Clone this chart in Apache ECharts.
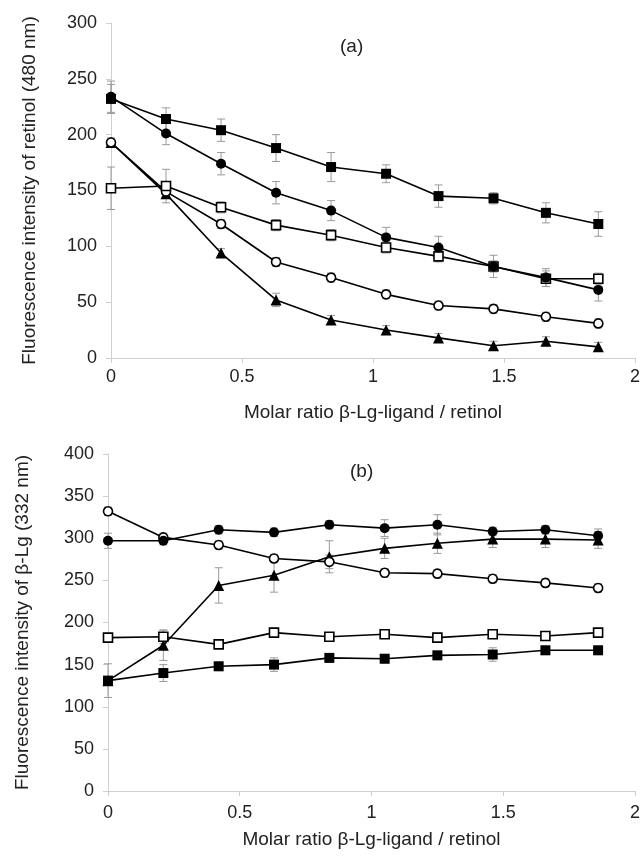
<!DOCTYPE html>
<html>
<head>
<meta charset="utf-8">
<script src="https://cdn.jsdelivr.net/npm/echarts@6/dist/echarts.min.js"></script>
<style>
    html, body { margin: 0; padding: 0; background: #fff; }
    #chart { width: 643px; height: 857px; }
</style>
</head>
<body>
<div id="chart"></div>
<script>
    // molar ratio β-Lg-ligand / retinol (same for both panels)
    const ratios = [0, 0.21, 0.42, 0.63, 0.84, 1.05, 1.25, 1.46, 1.66, 1.86]
    const xTicks = [0, 0.5, 1, 1.5, 2]

    // (a) fluorescence of retinol (480 nm)
    const aSqFilled = [232, 214, 204, 188, 171, 165, 145, 143, 130, 120]
    const aCiFilled = [234, 201, 174, 148, 132, 108, 99, 82, 72, 61]
    const aSqOpen = [152, 154, 135, 119, 110, 99, 91, 82, 71, 71]
    const aCiOpen = [193, 149, 120, 86, 72, 57, 47, 44, 37, 31]
    const aTri = [193, 147, 94, 52, 34, 25, 18, 11, 15, 10]
    const aSqFilledErr = [13, 10, 10, 12, 13, 8, 10, 5, 9, 11]
    const aCiFilledErr = [14, 10, 10, 10, 9, 9, 10, 10, 8, 10]
    const aSqOpenErr = [19, 15, 5, 5, 5, 5, 5, 5, 7, 5]
    const aCiOpenErr = [4, 4, 4, 4, 4, 4, 4, 4, 4, 4]
    const aTriErr = [4, 4, 4, 6, 4, 4, 4, 4, 4, 4]

    // (b) fluorescence of β-Lg (332 nm)
    const bCiOpen = [332, 301, 292, 276, 272, 259, 258, 252, 247, 241]
    const bCiFilled = [297, 297, 310, 307, 316, 312, 316, 308, 310, 303]
    const bTri = [131, 173, 244, 256, 278, 288, 294, 299, 299, 298]
    const bSqOpen = [182, 183, 174, 188, 183, 186, 182, 186, 184, 188]
    const bSqFilled = [131, 140, 148, 150, 158, 157, 161, 162, 167, 167]
    const bCiOpenErr = [5, 5, 5, 5, 8, 5, 5, 5, 5, 5]
    const bCiFilledErr = [9, 5, 5, 5, 5, 10, 12, 5, 5, 8]
    const bTriErr = [5, 18, 21, 20, 19, 12, 12, 10, 10, 10]
    const bSqOpenErr = [5, 8, 5, 5, 5, 5, 5, 5, 5, 5]
    const bSqFilledErr = [20, 10, 5, 8, 5, 5, 5, 8, 5, 5]

    const FONT = '"Liberation Sans", Arial, sans-serif'
    const AXIS_GREY = '#cfcfcf'
    const TEXT = '#222'

    function pts(ys) {
        return ratios.map((x, i) => [x, ys[i]])
    }

    function lineSeries(ys, symbol, filled, size, idx) {
        return {
            type: 'line',
            xAxisIndex: idx,
            yAxisIndex: idx,
            data: pts(ys),
            symbol: symbol,
            symbolSize: size,
            showAllSymbol: true,
            z: 3,
            lineStyle: { color: '#000', width: 1.6 },
            itemStyle: {
                color: filled ? '#000' : '#fff',
                borderColor: '#000',
                borderWidth: filled ? 0 : 1.6
            },
            emphasis: { disabled: true }
        }
    }

    // grey error bars with caps
    function errSeries(ys, errs, idx) {
        return {
            type: 'custom',
            xAxisIndex: idx,
            yAxisIndex: idx,
            z: 1,
            data: ratios.map((x, i) => [x, ys[i] - errs[i], ys[i] + errs[i]]),
            renderItem: function (params, api) {
                const lo = api.coord([api.value(0), api.value(1)])
                const hi = api.coord([api.value(0), api.value(2)])
                const w = 4
                const st = { stroke: '#9a9a9a', lineWidth: 1 }
                return {
                    type: 'group',
                    children: [
                        { type: 'line', shape: { x1: lo[0], y1: lo[1], x2: hi[0], y2: hi[1] }, style: st },
                        { type: 'line', shape: { x1: lo[0] - w, y1: lo[1], x2: lo[0] + w, y2: lo[1] }, style: st },
                        { type: 'line', shape: { x1: hi[0] - w, y1: hi[1], x2: hi[0] + w, y2: hi[1] }, style: st }
                    ]
                }
            }
        }
    }

    function xAxisCfg(idx, labelMargin, nameGap) {
        return {
            type: 'value',
            gridIndex: idx,
            min: xTicks[0],
            max: xTicks[xTicks.length - 1],
            interval: 0.5,
            name: 'Molar ratio β-Lg-ligand / retinol',
            nameLocation: 'middle',
            nameGap: nameGap,
            nameTextStyle: { fontFamily: FONT, fontSize: 19, color: TEXT },
            axisLine: { lineStyle: { color: AXIS_GREY, width: 1 } },
            axisTick: { show: true, length: 5, lineStyle: { color: AXIS_GREY } },
            axisLabel: { fontFamily: FONT, fontSize: 18, color: TEXT, margin: labelMargin },
            splitLine: { show: false }
        }
    }

    function yAxisCfg(idx, max, name, nameGap) {
        return {
            type: 'value',
            gridIndex: idx,
            min: 0,
            max: max,
            interval: 50,
            name: name,
            nameLocation: 'middle',
            nameGap: nameGap,
            nameTextStyle: { fontFamily: FONT, fontSize: 19, color: TEXT },
            axisLine: { show: true, lineStyle: { color: AXIS_GREY, width: 1 } },
            axisTick: { show: true, length: 5, lineStyle: { color: AXIS_GREY } },
            axisLabel: { fontFamily: FONT, fontSize: 18, color: TEXT, margin: 14 },
            splitLine: { show: false }
        }
    }

    const option = {
        animation: false,
        backgroundColor: '#fff',
        title: [
            { text: '(a)', left: 340, top: 37, padding: 0, textStyle: { fontFamily: FONT, fontSize: 19, fontWeight: 'normal', color: TEXT } },
            { text: '(b)', left: 350, top: 462, padding: 0, textStyle: { fontFamily: FONT, fontSize: 19, fontWeight: 'normal', color: TEXT } }
        ],
        grid: [
            { left: 111, top: 23, width: 526, height: 335 },
            { left: 108, top: 454, width: 529, height: 337 }
        ],
        xAxis: [xAxisCfg(0, 10, 45), xAxisCfg(1, 13, 39)],
        yAxis: [
            yAxisCfg(0, 300, 'Fluorescence intensity of retinol (480 nm)', 72),
            yAxisCfg(1, 400, 'Fluorescence intensity of β-Lg (332 nm)', 76)
        ],
        series: [
            errSeries(aSqFilled, aSqFilledErr, 0),
            errSeries(aCiFilled, aCiFilledErr, 0),
            errSeries(aSqOpen, aSqOpenErr, 0),
            errSeries(aCiOpen, aCiOpenErr, 0),
            errSeries(aTri, aTriErr, 0),
            lineSeries(aTri, 'triangle', true, 11, 0),
            lineSeries(aCiOpen, 'circle', false, 9, 0),
            lineSeries(aSqOpen, 'rect', false, 9, 0),
            lineSeries(aCiFilled, 'circle', true, 10, 0),
            lineSeries(aSqFilled, 'rect', true, 10, 0),

            errSeries(bCiOpen, bCiOpenErr, 1),
            errSeries(bCiFilled, bCiFilledErr, 1),
            errSeries(bTri, bTriErr, 1),
            errSeries(bSqOpen, bSqOpenErr, 1),
            errSeries(bSqFilled, bSqFilledErr, 1),
            lineSeries(bTri, 'triangle', true, 11, 1),
            lineSeries(bCiOpen, 'circle', false, 9, 1),
            lineSeries(bSqOpen, 'rect', false, 9, 1),
            lineSeries(bCiFilled, 'circle', true, 10, 1),
            lineSeries(bSqFilled, 'rect', true, 10, 1)
        ]
    }

    const chart = echarts.init(document.getElementById('chart'))
    chart.setOption(option)
    window.addEventListener('resize', () => chart.resize())
</script>
</body>
</html>
